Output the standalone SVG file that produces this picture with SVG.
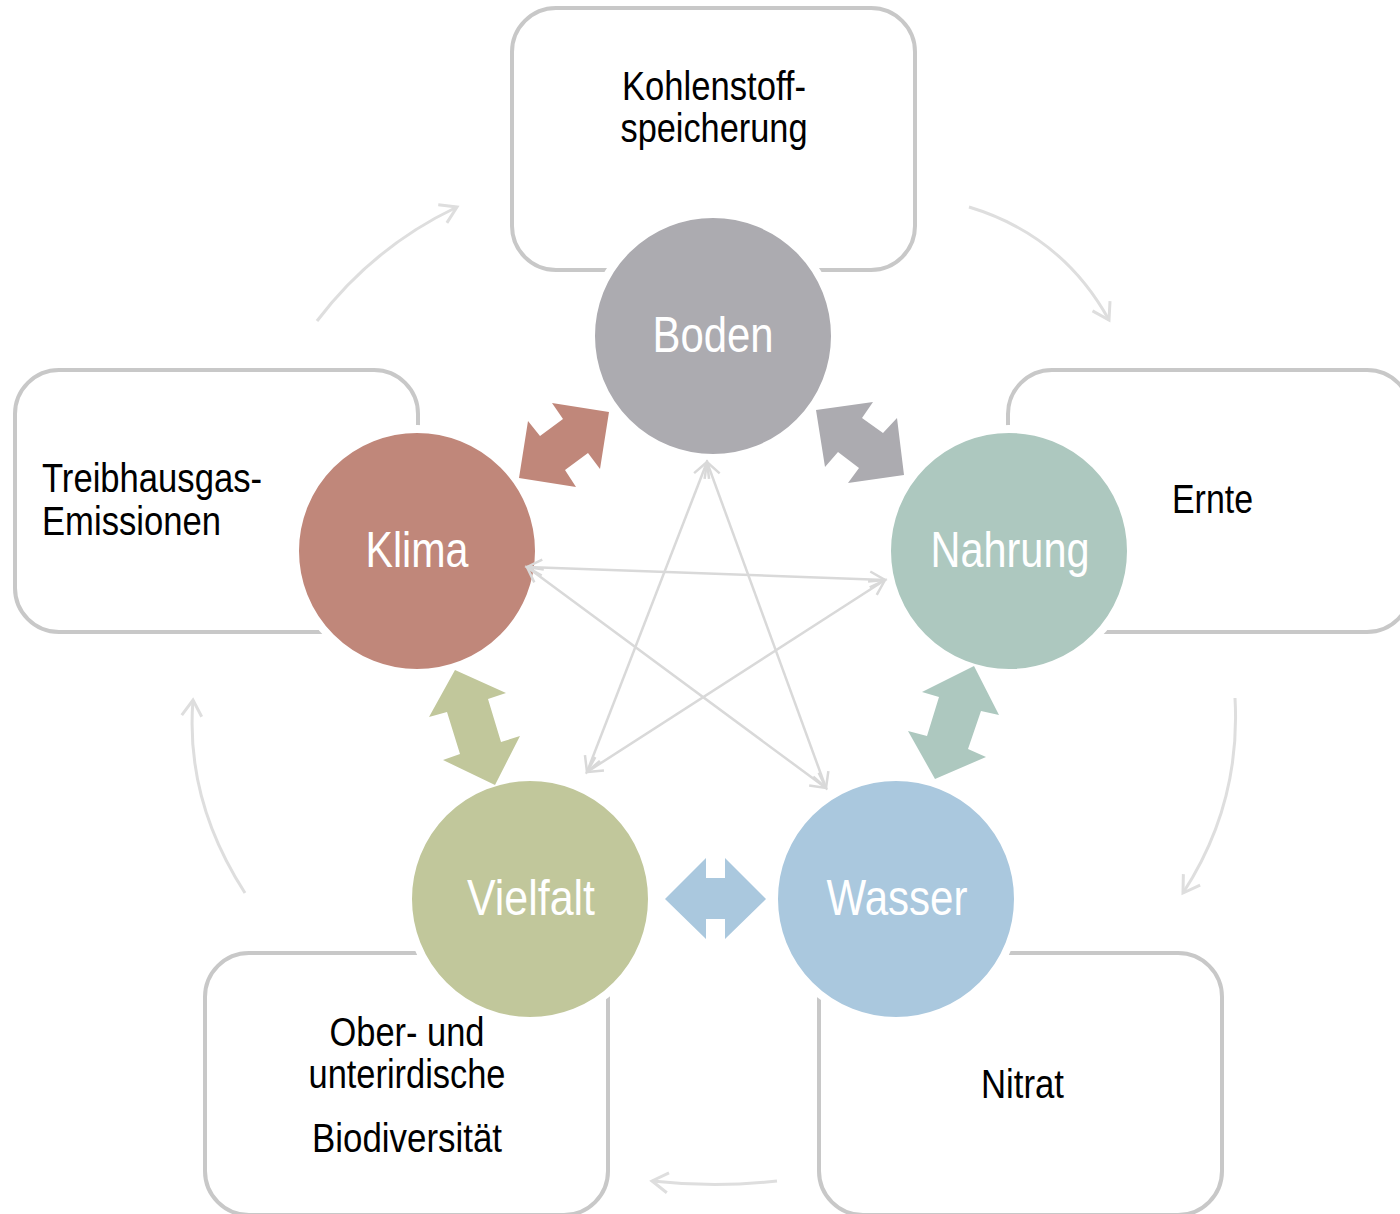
<svg xmlns="http://www.w3.org/2000/svg" width="1400" height="1214" viewBox="0 0 1400 1214">
<defs>
<style>
.box{fill:#ffffff;stroke:#c8c8c8;stroke-width:4}
.circ{stroke:#ffffff;stroke-width:8}
.lbl{font-family:"Liberation Sans Narrow","Liberation Sans",Arial,sans-serif;fill:#ffffff;font-size:50px;text-anchor:middle}
.txt{font-family:"Liberation Sans Narrow","Liberation Sans",Arial,sans-serif;fill:#000000;font-size:40px}
.star{fill:none;stroke:#d9d9d9;stroke-width:2.5}
.curve{fill:none;stroke:#dedede;stroke-width:3}
</style>
<marker id="hs" markerUnits="userSpaceOnUse" markerWidth="40" markerHeight="40" refX="0" refY="0" viewBox="-20 -20 40 40" orient="auto-start-reverse">
<path d="M -15 -8 L 0 0 L -15 8" fill="none" stroke="#d9d9d9" stroke-width="2.5"/>
</marker>
<marker id="hc" markerUnits="userSpaceOnUse" markerWidth="40" markerHeight="40" refX="0" refY="0" viewBox="-20 -20 40 40" orient="auto">
<path d="M -16 -10 L 0 0 L -16 10" fill="none" stroke="#dedede" stroke-width="3"/>
</marker>
</defs>
<rect width="1400" height="1214" fill="#ffffff"/>

<g id="box-top"><rect class="box" x="512" y="8" width="403" height="262" rx="44"/>
<text class="txt" x="714" y="100" text-anchor="middle" textLength="184" lengthAdjust="spacingAndGlyphs">Kohlenstoff-</text>
<text class="txt" x="714" y="142" text-anchor="middle" textLength="187" lengthAdjust="spacingAndGlyphs">speicherung</text></g>
<g id="box-left"><rect class="box" x="15" y="370" width="403" height="262" rx="44"/>
<text class="txt" x="42" y="492" textLength="220" lengthAdjust="spacingAndGlyphs">Treibhausgas-</text>
<text class="txt" x="42" y="535" textLength="179" lengthAdjust="spacingAndGlyphs">Emissionen</text></g>
<g id="box-right"><rect class="box" x="1008" y="370" width="403" height="262" rx="44"/>
<text class="txt" x="1172" y="513" textLength="81" lengthAdjust="spacingAndGlyphs">Ernte</text></g>
<g id="box-bottom-left"><rect class="box" x="205" y="953" width="403" height="262" rx="44"/>
<text class="txt" x="407" y="1046" text-anchor="middle" textLength="155" lengthAdjust="spacingAndGlyphs">Ober- und</text>
<text class="txt" x="407" y="1088" text-anchor="middle" textLength="197" lengthAdjust="spacingAndGlyphs">unterirdische</text>
<text class="txt" x="407" y="1152" text-anchor="middle" textLength="190" lengthAdjust="spacingAndGlyphs">Biodiversität</text></g>
<g id="box-bottom-right"><rect class="box" x="819" y="953" width="403" height="262" rx="44"/>
<text class="txt" x="981" y="1098" textLength="83" lengthAdjust="spacingAndGlyphs">Nitrat</text></g>

<g id="node-boden"><circle class="circ" cx="713" cy="336" r="122" fill="#acabb0"/>
<text class="lbl" x="713" y="352" textLength="121" lengthAdjust="spacingAndGlyphs">Boden</text></g>
<g id="node-klima"><circle class="circ" cx="417" cy="551" r="122" fill="#c0877a"/>
<text class="lbl" x="417" y="567" textLength="103" lengthAdjust="spacingAndGlyphs">Klima</text></g>
<g id="node-nahrung"><circle class="circ" cx="1009" cy="551" r="122" fill="#adc8bf"/>
<text class="lbl" x="1010" y="567" textLength="159" lengthAdjust="spacingAndGlyphs">Nahrung</text></g>
<g id="node-vielfalt"><circle class="circ" cx="530" cy="899" r="122" fill="#c1c79b"/>
<text class="lbl" x="531" y="915" textLength="128" lengthAdjust="spacingAndGlyphs">Vielfalt</text></g>
<g id="node-wasser"><circle class="circ" cx="896" cy="899" r="122" fill="#aac8de"/>
<text class="lbl" x="897" y="915" textLength="141" lengthAdjust="spacingAndGlyphs">Wasser</text></g>

<g id="connectors">
<path class="curve" d="M 317 321 Q 373 247 457 207" marker-end="url(#hc)"/>
<path class="curve" d="M 969 207 Q 1062 235 1109 320" marker-end="url(#hc)"/>
<path class="curve" d="M 1235 698 Q 1241 804 1183 893" marker-end="url(#hc)"/>
<path class="curve" d="M 777 1181 Q 715 1188 652 1181" marker-end="url(#hc)"/>
<path class="curve" d="M 245 893 Q 185 800 193 700" marker-end="url(#hc)"/>
<line class="star" x1="527" y1="567" x2="885" y2="580" marker-start="url(#hs)" marker-end="url(#hs)"/>
<line class="star" x1="527" y1="567" x2="826" y2="788" marker-start="url(#hs)" marker-end="url(#hs)"/>
<line class="star" x1="707" y1="462" x2="587" y2="772" marker-start="url(#hs)" marker-end="url(#hs)"/>
<line class="star" x1="707" y1="462" x2="826" y2="788" marker-start="url(#hs)" marker-end="url(#hs)"/>
<line class="star" x1="885" y1="580" x2="587" y2="772" marker-start="url(#hs)" marker-end="url(#hs)"/>
<polygon fill="#c0877a" points="609,412 600,469 588,453 565,470 576,487 519,478 528,421 540,436 563,419 552,403"/>
<polygon fill="#acabb0" points="816,410 873,402 862,418 883,433 897,418 904,475 848,483 859,468 838,452 825,467"/>
<polygon fill="#c1c79b" points="455,670 506,693 488,699 501,742 520,736 495,785 443,760 460,754 447,712 429,717"/>
<polygon fill="#adc8bf" points="974,666 999,715 981,711 968,749 986,757 935,779 908,731 927,736 939,697 922,692"/>
<polygon fill="#aac8de" points="665,899 706,858 706,878 725,878 725,858 766,899 725,939 725,919 706,919 706,939"/>
</g>
</svg>
